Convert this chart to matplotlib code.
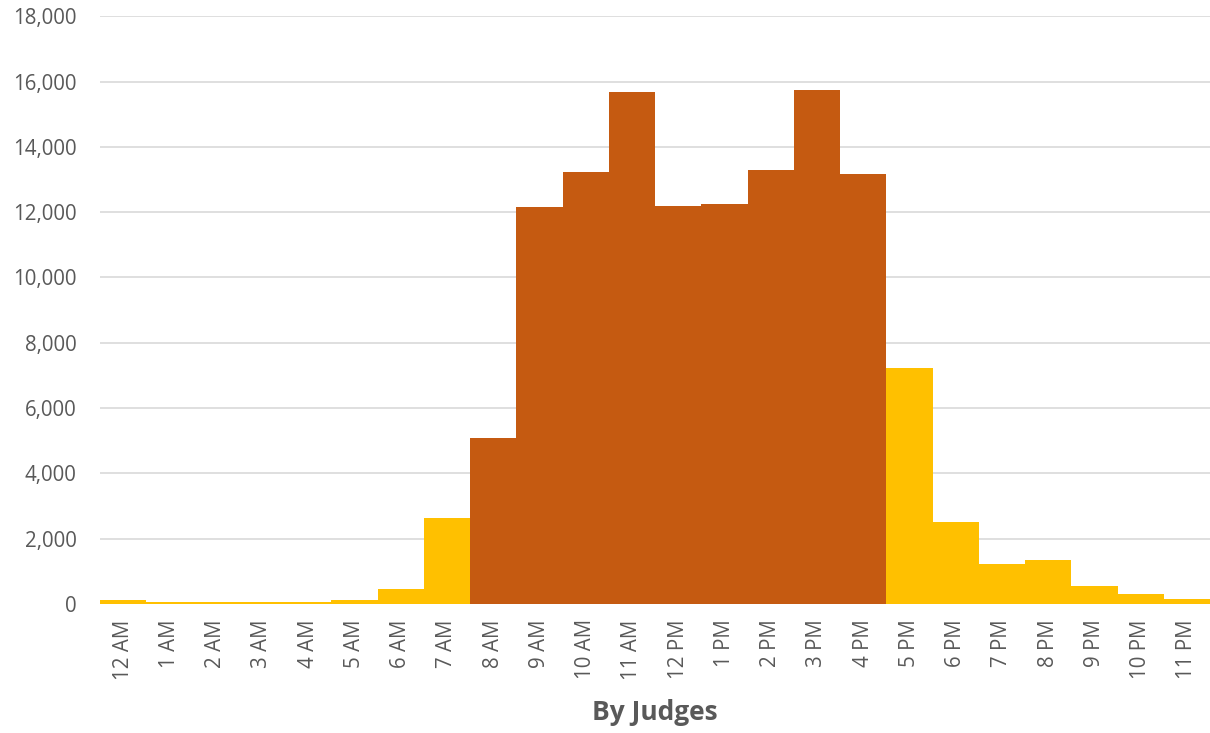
import matplotlib
matplotlib.use("Agg")
import matplotlib.pyplot as plt
from matplotlib.ticker import FuncFormatter

hours = ["12 AM", "1 AM", "2 AM", "3 AM", "4 AM", "5 AM", "6 AM", "7 AM",
         "8 AM", "9 AM", "10 AM", "11 AM", "12 PM", "1 PM", "2 PM", "3 PM",
         "4 PM", "5 PM", "6 PM", "7 PM", "8 PM", "9 PM", "10 PM", "11 PM"]
counts = [110, 50, 50, 50, 50, 110, 470, 2620,
          5090, 12150, 13230, 15690, 12190, 12250, 13290, 15740,
          13170, 7220, 2500, 1215, 1340, 540, 300, 160]
business_hours = ["8 AM", "9 AM", "10 AM", "11 AM", "12 PM", "1 PM", "2 PM", "3 PM", "4 PM"]

plt.rcParams['font.family'] = ['Open Sans', 'DejaVu Sans']

fig = plt.figure(figsize=(12.1, 7.33), dpi=100)
ax = fig.add_axes([100 / 1210, 1 - 604 / 733, 1 - 100 / 1210, (604 - 16.3) / 733])

colors = ["#C55A11" if h in business_hours else "#FFC000" for h in hours]
x = range(len(hours))
ax.bar(x, counts, width=1.0, color=colors, zorder=3)

ax.set_xlim(-0.5, len(hours) - 0.5)
ax.set_ylim(0, 18000)
ax.set_yticks(range(0, 18001, 2000))
ax.yaxis.set_major_formatter(FuncFormatter(lambda v, p: f"{int(v):,}"))
ax.set_xticks(list(x))
ax.set_xticklabels(hours, rotation=90)

ax.grid(axis='y', color='#D9D9D9', linewidth=1.2, zorder=0)
for s in ax.spines.values():
    s.set_visible(False)
ax.tick_params(axis='both', length=0, colors='#595959', labelsize=14.8)
ax.tick_params(axis='y', pad=17)
ax.tick_params(axis='x', pad=11)

ax.set_xlabel("By Judges", fontsize=19, fontweight='bold', color='#595959', labelpad=14)

fig.savefig("out.png", dpi=100)
